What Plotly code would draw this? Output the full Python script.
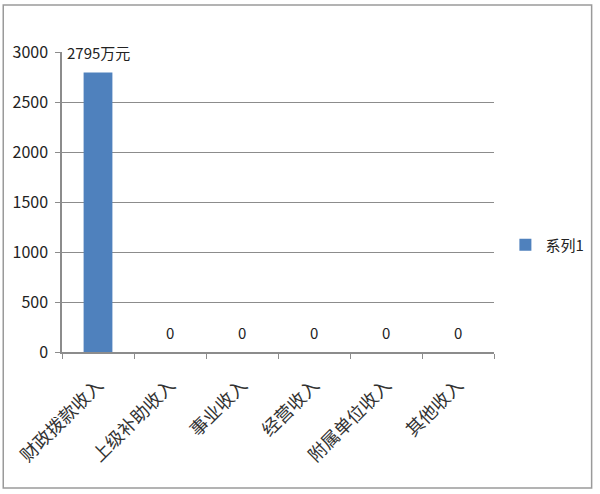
import plotly.graph_objects as go

categories = ["财政拨款收入", "上级补助收入", "事业收入", "经营收入", "附属单位收入", "其他收入"]
values = [2795, 0, 0, 0, 0, 0]
labels = ["2795万元", "0", "0", "0", "0", "0"]
series_name = "系列1"
y_ticks = [0, 500, 1000, 1500, 2000, 2500, 3000]

font_cjk = "Noto Sans CJK SC, sans-serif"

fig = go.Figure()
fig.add_trace(go.Bar(
    x=categories, y=values, name=series_name,
    marker=dict(color="#4F81BD", line=dict(width=0)),
    width=0.4, showlegend=True,
))

for c, v, t in zip(categories, values, labels):
    fig.add_annotation(x=c, y=v, text=t, showarrow=False, yshift=20,
                       font=dict(family=font_cjk, size=15, color="#222222"))

# outer border
fig.add_shape(type="rect", xref="paper", yref="paper",
              x0=-0.136, x1=1.226, y0=-0.453, y1=1.157,
              line=dict(color="#9a9a9a", width=1.5), layer="below")

fig.update_layout(
    width=600, height=494,
    margin=dict(l=62, r=105, t=52, b=142),
    paper_bgcolor="white", plot_bgcolor="white",
    bargap=0.6,
    font=dict(family=font_cjk, size=15, color="#222222"),
    legend=dict(x=1.024, y=0.357, xanchor="left", yanchor="middle",
                font=dict(size=15), itemwidth=30, bgcolor="rgba(0,0,0,0)"),
    xaxis=dict(
        tickangle=-45, showline=True, linecolor="#8c8c8c", linewidth=1.5,
        ticks="outside", tickson="boundaries", ticklen=5, tickcolor="#8c8c8c",
        ticklabelstandoff=14,
        tickfont=dict(family=font_cjk, size=18, color="#333333"), showgrid=False,
    ),
    yaxis=dict(
        range=[0, 3000], tickvals=y_ticks, showline=True, linecolor="#8c8c8c",
        linewidth=1.5, ticks="outside", ticklen=5, tickcolor="#8c8c8c",
        ticklabelstandoff=4,
        gridcolor="#8c8c8c", gridwidth=1.2, zeroline=False,
        tickfont=dict(size=16, color="#222222"),
    ),
)

fig.write_html("out.html", config={"displayModeBar": False},
               post_script="document.body.style.margin='0px';")
